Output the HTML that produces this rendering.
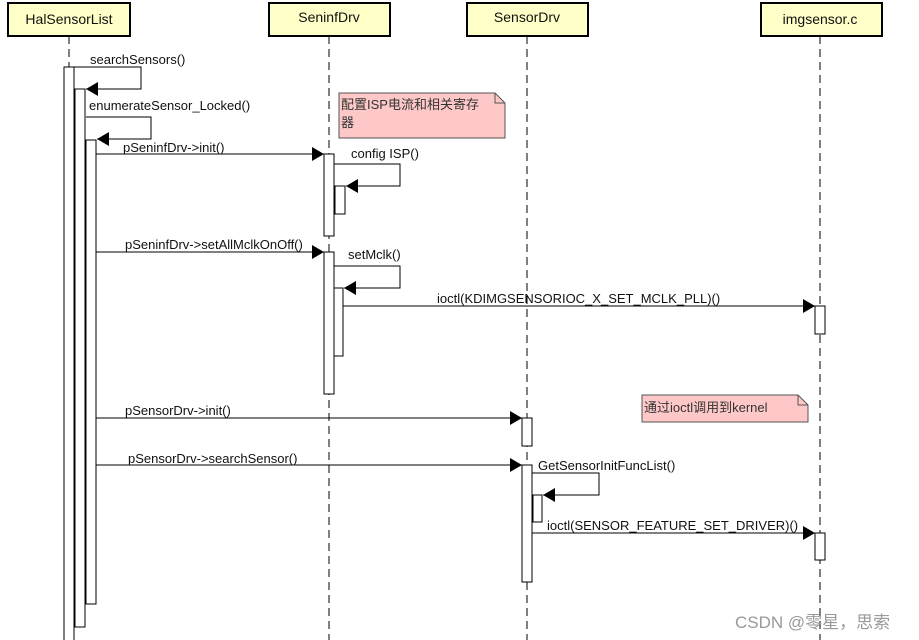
<!DOCTYPE html>
<html><head><meta charset="utf-8"><style>
html,body{margin:0;padding:0;background:#fff;}
svg{display:block;}
text{font-family:"Liberation Sans","Noto Sans CJK SC",sans-serif;font-size:13px;fill:#111;}
</style></head><body>
<svg width="919" height="640" viewBox="0 0 919 640" xmlns="http://www.w3.org/2000/svg">
<defs>
<marker id="a" markerWidth="14" markerHeight="14" refX="12" refY="7" orient="auto" markerUnits="userSpaceOnUse">
<path d="M0,0 L12,7 L0,14 Z" fill="#000"/></marker>
</defs>
<g stroke="#000" stroke-width="1" stroke-dasharray="8,5" fill="none">
<line x1="69" y1="36" x2="69" y2="640"/>
<line x1="329" y1="36" x2="329" y2="640"/>
<line x1="527" y1="36" x2="527" y2="640"/>
<line x1="820" y1="36" x2="820" y2="640"/>
</g>
<g fill="#ffffc8" stroke="#000" stroke-width="2">
<rect x="8" y="3" width="122" height="33"/>
<rect x="269" y="3" width="121" height="33"/>
<rect x="467" y="3" width="121" height="33"/>
<rect x="761" y="3" width="121" height="33"/>
</g>
<text x="69" y="24" text-anchor="middle" style="font-size:14px">HalSensorList</text>
<text x="329" y="22" text-anchor="middle" style="font-size:14px">SeninfDrv</text>
<text x="527" y="22" text-anchor="middle" style="font-size:14px">SensorDrv</text>
<text x="820" y="24" text-anchor="middle" style="font-size:14px">imgsensor.c</text>

<path d="M339,93 L495,93 L505,103 L505,138 L339,138 Z" fill="#ffc8c8" stroke="#555"/>
<path d="M495,93 L495,103 L505,103" fill="none" stroke="#555"/>
<text x="341" y="109" style="fill:#333">配置ISP电流和相关寄存</text>
<text x="341" y="127" style="fill:#333">器</text>
<path d="M642,395 L798,395 L808,405 L808,422 L642,422 Z" fill="#ffc8c8" stroke="#555"/>
<path d="M798,395 L798,405 L808,405" fill="none" stroke="#555"/>
<text x="644" y="412" style="fill:#333">通过ioctl调用到kernel</text>

<g fill="#fff" stroke="#000">
<rect x="64" y="67" width="10" height="580"/>
<rect x="75" y="89" width="10" height="538"/>
<rect x="86" y="140" width="10" height="464"/>
<rect x="324" y="154" width="10" height="82"/>
<rect x="335" y="186" width="10" height="28"/>
<rect x="324" y="252" width="10" height="142"/>
<rect x="334" y="288" width="9" height="68"/>
<rect x="815" y="306" width="10" height="28"/>
<rect x="522" y="418" width="10" height="28"/>
<rect x="522" y="465" width="10" height="117"/>
<rect x="533" y="495" width="9" height="27"/>
<rect x="815" y="533" width="10" height="27"/>
</g>

<g stroke="#000" fill="none">
<polyline points="74,67 141,67 141,89 86,89" marker-end="url(#a)"/>
<polyline points="86,117 151,117 151,139 97,139" marker-end="url(#a)"/>
<line x1="96" y1="154" x2="324" y2="154" marker-end="url(#a)"/>
<polyline points="334,164 400,164 400,186 346,186" marker-end="url(#a)"/>
<line x1="96" y1="252" x2="324" y2="252" marker-end="url(#a)"/>
<polyline points="334,266 400,266 400,288 344,288" marker-end="url(#a)"/>
<line x1="343" y1="306" x2="815" y2="306" marker-end="url(#a)"/>
<line x1="96" y1="418" x2="522" y2="418" marker-end="url(#a)"/>
<line x1="96" y1="465" x2="522" y2="465" marker-end="url(#a)"/>
<polyline points="532,473 599,473 599,495 543,495" marker-end="url(#a)"/>
<line x1="532" y1="533" x2="815" y2="533" marker-end="url(#a)"/>
</g>

<text x="90" y="64">searchSensors()</text>
<text x="89" y="110">enumerateSensor_Locked()</text>
<text x="123" y="152">pSeninfDrv-&gt;init()</text>
<text x="351" y="158">config ISP()</text>
<text x="125" y="249">pSeninfDrv-&gt;setAllMclkOnOff()</text>
<text x="348" y="259">setMclk()</text>
<text x="437" y="303">ioctl(KDIMGSENSORIOC_X_SET_MCLK_PLL)()</text>
<text x="125" y="415">pSensorDrv-&gt;init()</text>
<text x="128" y="463">pSensorDrv-&gt;searchSensor()</text>
<text x="538" y="470">GetSensorInitFuncList()</text>
<text x="547" y="530">ioctl(SENSOR_FEATURE_SET_DRIVER)()</text>
<text x="735" y="628" style="font-size:17px;fill:#999">CSDN @零星，思索</text>
</svg>
</body></html>
